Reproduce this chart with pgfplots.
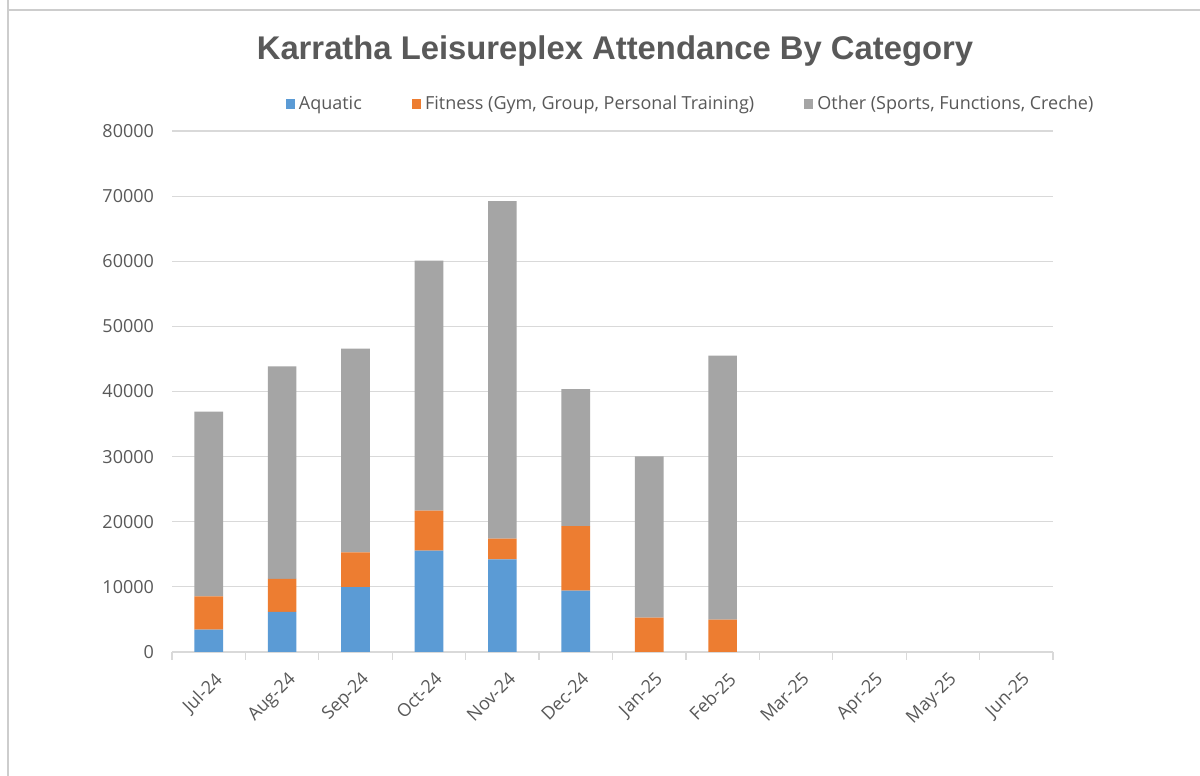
\documentclass[border=0pt]{standalone}
\usepackage{pgfplots}
\pgfplotsset{compat=1.18}
\usepackage{pgfplotstable}
\usepackage{fontspec}
\setmainfont{Open Sans}
\newfontfamily\titlefont{Liberation Sans}
\definecolor{aquablue}{RGB}{91,155,213}
\definecolor{fitorange}{RGB}{237,125,49}
\definecolor{othergray}{RGB}{165,165,165}
\definecolor{txtgray}{RGB}{89,89,89}
\definecolor{gridgray}{RGB}{217,217,217}
\definecolor{framegray}{RGB}{205,205,205}

% months at 0..11
\pgfplotstableread{
x aquatic fitness other
0 3450 5110 28340
1 6150 5090 32610
2 9950 5360 31290
3 15570 6130 38400
4 14230 3190 51810
5 9430 9900 21035
6 0 5280 24770
7 0 4970 40550
}\attendance

\begin{document}
\begin{tikzpicture}
\path[use as bounding box] (0,0) rectangle (600pt,388pt);
\fill[white] (0,0) rectangle (600pt,388pt);
\draw[framegray, line width=1pt] (4pt,0) -- (4pt,388pt);
\draw[framegray, line width=1pt] (4pt,383pt) -- (600pt,383pt);
\node[anchor=base, font=\titlefont\bfseries\fontsize{16.4}{19}\selectfont, text=txtgray]
  at (307.5pt,358pt) {Karratha Leisureplex Attendance By Category};
\begin{axis}[
  at={(86pt,62pt)}, anchor=south west,
  scale only axis, width=440.5pt, height=260.5pt,
  ybar stacked, bar width=0.39,
  xmin=-0.5, xmax=11.5, ymin=0, ymax=80000,
  xtick={0,...,11},
  xticklabels={Jul-24,Aug-24,Sep-24,Oct-24,Nov-24,Dec-24,Jan-25,Feb-25,Mar-25,Apr-25,May-25,Jun-25},
  minor xtick={-0.5,0.5,...,11.5},
  ytick={0,10000,...,80000},
  scaled y ticks=false,
  yticklabel style={/pgf/number format/fixed, /pgf/number format/1000 sep={}, xshift=-5.5pt},
  /pgf/number format/assume math mode=true,
  ticklabel style={font=\fontsize{9}{10}\selectfont, text=txtgray},
  xticklabel style={rotate=45, anchor=north east, xshift=-1.5pt, yshift=-5pt},
  major tick length=0pt, minor tick length=4pt, tick align=outside,
  minor tick style={gridgray, line width=0.6pt},
  ymajorgrids, grid style={gridgray, line width=0.6pt},
  axis x line*=bottom, axis y line*=left,
  x axis line style={gridgray, line width=0.6pt, -},
  y axis line style={draw=none},
  legend columns=3,
  legend style={draw=none, fill=none, at={(0.5897,1.0518)}, anchor=center,
    font=\fontsize{9}{10}\selectfont, text=txtgray,
    /tikz/every even column/.append style={column sep=23pt}},
  legend image code/.code={\fill[#1] (0pt,-2.3pt) rectangle (4.6pt,2.3pt);},
  clip=false,
]
\addplot[fill=aquablue, draw=none] table[x=x, y=aquatic] {\attendance};
\addlegendentry{Aquatic}
\addplot[fill=fitorange, draw=none] table[x=x, y=fitness] {\attendance};
\addlegendentry{Fitness (Gym, Group, Personal Training)}
\addplot[fill=othergray, draw=none] table[x=x, y=other] {\attendance};
\addlegendentry{Other (Sports, Functions, Creche)}
\end{axis}
\end{tikzpicture}
\end{document}
